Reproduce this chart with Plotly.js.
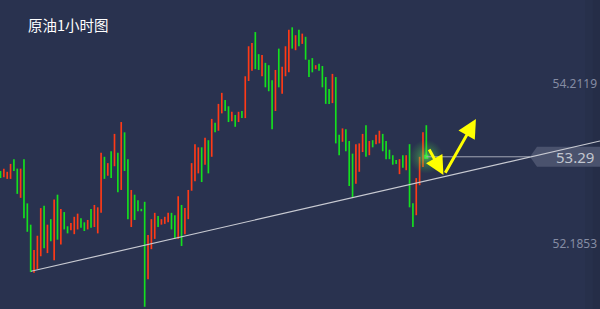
<!DOCTYPE html>
<html>
<head>
<meta charset="utf-8">
<script src="https://cdn.plot.ly/plotly-3.0.1.min.js"></script>
<style>html,body{margin:0;padding:0;background:#29324f;}#chart{width:600px;height:309px;}</style>
</head>
<body>
<div id="chart"></div>
<script>
// ---- data (hourly crude oil bars) ----
const highs = [53.11,53.14,53.10,53.20,53.26,53.14,53.14,53.26,52.70,52.43,
52.11,52.29,52.64,52.67,52.43,52.50,52.75,52.81,52.63,52.59,
52.41,52.45,52.53,52.57,52.51,52.46,52.49,52.63,52.68,52.65,
53.34,53.29,53.21,53.36,53.58,53.34,53.73,53.60,53.26,52.87,
52.81,52.74,52.63,52.72,52.30,52.50,52.58,52.54,52.50,52.53,
52.58,52.58,52.55,52.79,52.68,52.64,52.87,53.21,53.45,53.41,
53.41,53.53,53.50,53.77,53.72,53.96,54.10,54.01,53.93,53.86,
53.82,53.86,53.87,54.31,54.69,54.73,54.87,54.59,54.58,54.48,
54.45,54.26,54.39,54.66,54.43,54.69,54.90,54.93,54.83,54.90,
54.85,54.81,54.52,54.54,54.45,54.47,54.44,54.30,54.15,54.34,
54.30,53.57,53.65,53.64,53.49,53.33,53.45,53.46,53.58,53.69,
53.49,53.50,53.57,53.62,53.58,53.49,53.38,53.31,53.25,53.26,
53.31,53.31,53.45,52.70,53.02,53.29,53.60,53.69];
const lows = [53.02,53.03,53.01,53.01,53.11,52.82,52.77,52.51,52.34,51.83,
51.82,51.87,52.03,52.13,52.07,52.22,51.98,52.24,52.18,52.37,
52.32,52.36,52.31,52.37,52.39,52.35,52.37,52.39,52.40,52.32,
52.58,53.01,53.05,53.02,53.17,52.84,52.87,53.11,52.50,52.40,
52.49,52.60,52.60,51.39,51.74,52.12,52.25,52.40,52.43,52.44,
52.46,52.37,52.25,52.25,52.16,52.31,52.50,52.86,52.98,53.08,
52.97,53.19,53.08,53.29,53.60,53.62,53.84,53.87,53.73,53.74,
53.67,53.73,53.78,53.78,54.25,54.38,54.40,54.39,54.31,54.17,
54.12,53.64,53.87,54.17,54.09,54.31,54.36,54.66,54.64,54.69,
54.72,54.52,54.30,54.36,54.40,54.38,54.17,53.96,53.96,53.97,
53.46,53.31,53.48,53.36,52.92,52.77,52.95,53.10,53.35,53.29,
53.31,53.41,53.45,53.46,53.36,53.26,53.26,53.19,53.20,53.07,
53.15,53.12,52.65,52.40,52.55,52.93,53.16,53.29];
// u = rising bar (red), d = falling bar (green)
const directions = [
"d","u","u","u","d","d","u","d","d","d",
"u","u","u","d","u","d","u","d","u","d",
"d","u","u","u","d","d","u","d","u","u",
"u","d","u","d","u","d","u","d","d","u",
"d","d","d","d","u","u","u","d","u","u",
"u","d","d","u","d","u","u","u","u","u",
"d","u","d","u","d","u","u","d","d","u",
"d","u","d","u","u","u","d","d","u","d",
"d","d","u","d","u","u","u","d","u","d",
"u","d","d","d","u","d","d","d","d","u",
"d","d","u","d","d","d","u","u","u","d",
"u","d","u","u","d","d","d","d","d","u",
"d","u","d","d","u","u","u","d"];
const priceLabels = [54.2119, 52.1853];
const priceLabelText = ["54.2119", "52.1853"];
const lastPrice = 53.29;
const lastPriceText = "53.29";
const titleText = "原油1小时图";
// trend line anchors (bar index, price)
const trendStart = [9.1, 51.84];
const trendEnd = [178.8, 53.49];
// analyst arrows: [tailX, tailY, headX, headY] in bar index / price
const arrowDown = [127.6, 53.40, 132.1, 53.06];
const arrowUp = [132.4, 53.07, 141.8, 53.77];

// ---- build ----
const BG = "#29324f", RED = "#ff3a16", GREEN = "#14e01e";
function series(dir){
  const x=[], base=[], h=[];
  highs.forEach((hi,i)=>{ if(directions[i]===dir){ x.push(i); base.push(lows[i]); h.push(Math.max(hi-lows[i],0.012)); } });
  return {type:"bar", x:x, y:h, base:base, width:0.5, marker:{color: dir==="u"?RED:GREEN, line:{width:0}}, hoverinfo:"skip"};
}
const lastIdx = highs.length-1;
const traces = [
  series("u"), series("d"),
  {type:"scatter", mode:"markers", x:[lastIdx], y:[lastPrice], hoverinfo:"skip",
   marker:{size:34, color:"rgba(60,200,60,0)", gradient:{type:"radial", color:"rgba(110,255,90,0.55)"}, line:{width:0}}},
  {type:"scatter", mode:"markers", x:[lastIdx], y:[lastPrice], hoverinfo:"skip",
   marker:{size:4, symbol:"square", color:"#3cf040", line:{width:0}}}
];
const layout = {
  width:600, height:309,
  margin:{l:0,r:0,t:0,b:0,pad:0},
  paper_bgcolor:BG, plot_bgcolor:BG,
  showlegend:false, barmode:"overlay", hovermode:false,
  title:{text:titleText, x:28/600, xanchor:"left", y:1-25.5/309, yanchor:"middle",
         font:{family:"Noto Sans CJK SC", size:14.5, color:"#ffffff"}},
  xaxis:{range:[-0.15,178.8], showgrid:false, zeroline:false, showticklabels:false, showline:false, ticks:"", fixedrange:true},
  yaxis:{range:[51.362,55.276], side:"right", tickvals:priceLabels, ticktext:priceLabelText,
         ticklabelposition:"inside", showgrid:false, zeroline:false, showline:false, ticks:"",
         tickfont:{family:"Noto Sans", size:12, color:"#858ca3"}, fixedrange:true},
  shapes:[
    {type:"rect", xref:"paper", yref:"paper", x0:0.975, x1:1, y0:0, y1:1, fillcolor:"rgba(0,0,0,0.04)", line:{width:0}, layer:"below"},
    {type:"rect", xref:"paper", yref:"paper", x0:0.988, x1:1, y0:0, y1:1, fillcolor:"rgba(0,0,0,0.05)", line:{width:0}, layer:"below"},
    {type:"path", xref:"paper", xsizemode:"pixel", xanchor:1, yref:"y", ysizemode:"pixel", yanchor:lastPrice,
     path:"M -70,0 L -63,10 L 0,10 L 0,-10 L -63,-10 Z", fillcolor:"#4a526d", line:{width:0}, layer:"below"},
    {type:"line", xref:"x", yref:"y", x0:lastIdx, x1:157.9, y0:lastPrice, y1:lastPrice, line:{color:"#a3a8b6", width:1}},
    {type:"line", xref:"x", yref:"y", x0:trendStart[0], y0:trendStart[1], x1:trendEnd[0], y1:trendEnd[1], line:{color:"#c8cad2", width:1.2}}
  ],
  annotations:[
    {xref:"paper", x:0.993, xanchor:"right", yref:"y", y:lastPrice, yanchor:"middle", text:lastPriceText, showarrow:false,
     font:{family:"Noto Sans", size:15, color:"#c2c6d0"}},
    {xref:"x", yref:"y", axref:"x", ayref:"y", x:arrowDown[2], y:arrowDown[3], ax:arrowDown[0], ay:arrowDown[1], text:"",
     showarrow:true, arrowhead:2, arrowsize:1.25, arrowwidth:3, arrowcolor:"#ffff00", standoff:0, startstandoff:0},
    {xref:"x", yref:"y", axref:"x", ayref:"y", x:arrowUp[2], y:arrowUp[3], ax:arrowUp[0], ay:arrowUp[1], text:"",
     showarrow:true, arrowhead:2, arrowsize:1.25, arrowwidth:3, arrowcolor:"#ffff00", standoff:0, startstandoff:0}
  ]
};
Plotly.newPlot("chart", traces, layout, {displayModeBar:false, staticPlot:true});
</script>
</body>
</html>
